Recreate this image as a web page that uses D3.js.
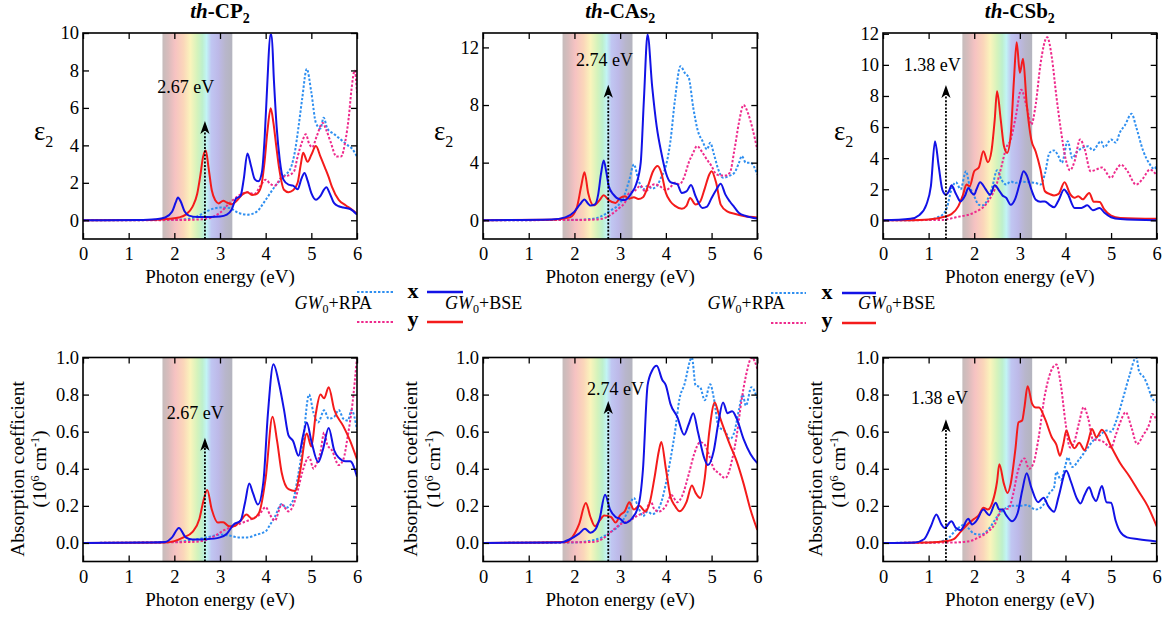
<!DOCTYPE html>
<html>
<head>
<meta charset="utf-8">
<script src="https://cdn.jsdelivr.net/npm/d3@7"></script>
<style>
  body { margin: 0; background: #fff; }
  svg { font-family: "Liberation Serif", "Times New Roman", serif; }
  .tick text { font-size: 18.5px; fill: #000; }
  .tick line { stroke: #000; stroke-width: 1.3; }
</style>
</head>
<body>
<svg id="chart" width="1167" height="618"></svg>
<script>
// ---- data (photon energy eV, value) ----
const materials = ["CP", "CAs", "CSb"];
const bandGaps = [2.67, 2.74, 1.38];
const visibleRange = [1.74, 3.27];
const xTicks = [0, 1, 2, 3, 4, 5, 6];

// th-CP2, epsilon_2
const cp2EpsXBse = [[0,0],[1.2,0.02],[1.6,0.06],[1.8,0.15],[1.95,0.45],[2.03,0.95],[2.08,1.22],[2.14,1.0],[2.22,0.5],[2.32,0.25],[2.5,0.18],[2.8,0.18],[3.0,0.2],[3.15,0.3],[3.25,0.55],[3.35,1.15],[3.45,1.3],[3.52,2.2],[3.6,3.57],[3.68,2.9],[3.76,2.2],[3.84,2.08],[3.92,2.6],[3.98,4.5],[4.04,7.5],[4.1,9.9],[4.13,9.9],[4.18,7.5],[4.24,5.0],[4.31,3.2],[4.39,2.17],[4.5,1.9],[4.6,1.85],[4.7,1.65],[4.78,2.2],[4.85,2.53],[4.92,2.1],[5.0,1.45],[5.1,1.1],[5.2,1.3],[5.28,1.65],[5.33,1.76],[5.4,1.45],[5.5,0.91],[5.6,0.75],[5.7,0.68],[5.85,0.6],[6.0,0.3]];
const cp2EpsYBse = [[0,0],[1.5,0.02],[1.9,0.08],[2.1,0.15],[2.25,0.3],[2.4,0.73],[2.5,1.4],[2.57,2.4],[2.63,3.4],[2.69,3.73],[2.75,2.8],[2.82,1.6],[2.9,1.05],[2.97,0.9],[3.07,1.04],[3.15,0.95],[3.25,0.85],[3.35,1.0],[3.5,1.4],[3.6,1.5],[3.7,1.35],[3.8,1.4],[3.9,1.8],[3.97,3.0],[4.04,4.8],[4.11,5.98],[4.17,5.2],[4.23,4.0],[4.3,2.7],[4.4,1.63],[4.5,1.5],[4.6,1.6],[4.7,2.0],[4.77,3.0],[4.82,3.6],[4.92,3.12],[5.0,3.5],[5.1,3.96],[5.2,3.4],[5.3,2.8],[5.38,2.3],[5.45,1.8],[5.6,1.09],[5.75,0.8],[5.9,0.55],[6.0,0.35]];
const cp2EpsXRpa = [[0,0],[1.5,0.01],[2.2,0.05],[2.5,0.2],[2.7,0.47],[3.0,0.68],[3.2,0.66],[3.4,0.4],[3.6,0.3],[3.8,0.45],[4.0,1.09],[4.2,1.8],[4.4,2.35],[4.55,2.8],[4.65,3.8],[4.72,5.0],[4.8,6.5],[4.9,8.08],[5.0,6.83],[5.1,5.2],[5.2,4.9],[5.27,5.48],[5.35,4.9],[5.5,4.6],[5.6,4.4],[5.7,4.2],[5.8,4.0],[5.9,3.8],[6.0,3.4]];
const cp2EpsYRpa = [[0,0],[2.0,0.01],[2.6,0.05],[3.0,0.4],[3.2,0.9],[3.4,1.3],[3.6,1.5],[3.75,1.4],[3.9,1.9],[4.0,2.17],[4.1,1.95],[4.2,1.85],[4.35,2.3],[4.5,2.4],[4.62,2.6],[4.7,3.4],[4.8,4.2],[4.88,4.59],[4.95,4.1],[5.02,3.9],[5.12,4.5],[5.25,5.2],[5.33,4.8],[5.42,4.2],[5.55,3.4],[5.65,3.4],[5.75,4.3],[5.82,5.5],[5.88,7.0],[5.95,8.0],[6.0,6.8]];

// th-CAs2, epsilon_2
const casEpsXBse = [[0,0],[1.5,0.05],[1.8,0.2],[2.0,0.6],[2.12,1.1],[2.22,1.44],[2.3,1.15],[2.35,1.02],[2.45,1.1],[2.52,1.8],[2.58,3.2],[2.64,4.15],[2.7,3.3],[2.75,2.37],[2.85,1.8],[3.0,1.44],[3.1,1.4],[3.25,1.9],[3.35,2.5],[3.45,4.0],[3.52,8.4],[3.6,12.9],[3.7,9.3],[3.8,6.5],[3.9,4.7],[4.0,3.3],[4.1,2.65],[4.25,2.5],[4.35,1.9],[4.45,2.0],[4.55,2.44],[4.65,1.67],[4.8,0.86],[4.9,0.95],[5.0,1.55],[5.1,2.1],[5.2,2.53],[5.3,1.8],[5.4,1.3],[5.5,0.9],[5.6,0.5],[5.75,0.3],[6.0,0.12]];
const casEpsYBse = [[0,0],[1.5,0.04],[1.9,0.2],[2.05,0.86],[2.15,2.4],[2.22,3.34],[2.3,1.9],[2.42,1.04],[2.55,1.4],[2.64,1.74],[2.75,1.4],[2.9,1.2],[3.0,1.55],[3.1,1.67],[3.2,1.5],[3.3,1.6],[3.4,1.48],[3.5,1.6],[3.6,2.3],[3.72,3.4],[3.82,3.76],[3.9,3.3],[4.0,1.9],[4.1,1.3],[4.2,1.0],[4.35,0.8],[4.45,1.0],[4.53,1.55],[4.65,1.1],[4.75,1.3],[4.85,2.2],[4.95,3.18],[5.0,3.41],[5.1,2.6],[5.2,1.09],[5.35,0.6],[5.5,0.45],[5.7,0.3],[6.0,0.2]];
const casEpsXRpa = [[0,0],[2.0,0.03],[2.4,0.1],[2.6,0.3],[2.8,0.7],[3.0,1.2],[3.1,1.8],[3.2,2.8],[3.3,3.88],[3.4,2.8],[3.5,2.14],[3.6,2.4],[3.7,2.2],[3.8,2.37],[3.9,3.0],[4.0,3.76],[4.1,5.5],[4.2,8.4],[4.32,10.7],[4.42,10.2],[4.5,9.9],[4.6,7.8],[4.7,6.2],[4.8,5.5],[4.9,4.92],[4.97,5.38],[5.05,4.6],[5.15,3.5],[5.25,2.95],[5.4,3.1],[5.5,3.3],[5.6,4.0],[5.66,4.46],[5.75,4.0],[5.85,4.0],[6.0,3.18]];
const casEpsYRpa = [[0,0],[2.3,0.03],[2.6,0.1],[2.8,0.4],[3.0,0.9],[3.1,1.2],[3.2,1.9],[3.3,2.0],[3.45,2.4],[3.55,2.0],[3.65,2.3],[3.75,2.5],[3.85,2.4],[4.0,2.1],[4.1,2.3],[4.2,2.6],[4.3,2.5],[4.4,3.0],[4.5,4.0],[4.6,4.7],[4.68,5.15],[4.8,4.7],[4.9,4.2],[5.0,3.76],[5.1,3.2],[5.2,3.1],[5.3,3.1],[5.4,3.3],[5.5,4.9],[5.6,6.8],[5.7,8.0],[5.8,7.4],[5.9,6.3],[6.0,4.9]];

// th-CSb2, epsilon_2
const csbEpsXBse = [[0,0],[0.6,0.1],[0.8,0.35],[0.95,1.0],[1.05,2.2],[1.14,5.09],[1.22,3.5],[1.3,1.98],[1.38,1.65],[1.45,1.9],[1.5,2.25],[1.6,1.7],[1.7,1.22],[1.8,1.6],[1.87,2.08],[1.95,1.75],[2.0,1.65],[2.05,2.0],[2.13,2.45],[2.25,2.0],[2.35,1.65],[2.45,2.25],[2.55,1.9],[2.62,1.6],[2.7,1.45],[2.8,1.0],[2.9,1.4],[3.0,2.4],[3.08,3.16],[3.15,2.9],[3.25,2.0],[3.35,1.33],[3.45,1.2],[3.55,1.22],[3.65,1.0],[3.75,0.84],[3.85,1.3],[3.97,1.98],[4.05,1.7],[4.2,0.8],[4.35,0.8],[4.48,0.97],[4.6,0.65],[4.75,0.8],[4.85,0.5],[5.0,0.2],[5.2,0.08],[6.0,0.0]];
const csbEpsYBse = [[0,0],[0.8,0.03],[1.0,0.06],[1.3,0.2],[1.5,0.4],[1.65,0.9],[1.75,1.6],[1.83,2.3],[1.9,2.2],[2.0,3.16],[2.1,3.4],[2.2,4.44],[2.3,3.74],[2.38,4.5],[2.45,6.5],[2.5,8.3],[2.58,6.5],[2.65,4.8],[2.72,4.34],[2.8,5.5],[2.87,9.0],[2.93,11.46],[3.0,9.49],[3.07,10.39],[3.15,7.5],[3.25,5.2],[3.35,4.4],[3.45,3.3],[3.55,1.87],[3.65,1.7],[3.75,1.6],[3.85,1.7],[3.98,2.45],[4.1,1.7],[4.2,1.45],[4.28,1.55],[4.38,1.35],[4.52,1.76],[4.62,1.2],[4.75,1.18],[4.85,0.7],[5.0,0.3],[5.2,0.15],[6.0,0.1]];
const csbEpsXRpa = [[0,0],[1.0,0.03],[1.2,0.2],[1.3,0.35],[1.4,0.8],[1.5,1.98],[1.6,2.45],[1.7,2.0],[1.82,3.16],[1.9,2.2],[2.0,1.55],[2.1,1.0],[2.2,0.97],[2.3,1.4],[2.4,2.2],[2.5,3.22],[2.6,2.6],[2.7,2.3],[2.8,2.5],[2.9,2.4],[3.0,2.5],[3.2,2.45],[3.35,2.4],[3.45,2.3],[3.55,3.0],[3.65,4.34],[3.75,4.5],[3.85,4.1],[3.92,3.7],[4.05,5.09],[4.15,4.0],[4.25,4.4],[4.5,4.76],[4.6,4.5],[4.78,5.09],[4.85,4.7],[5.0,5.2],[5.1,5.0],[5.2,5.7],[5.3,6.1],[5.45,6.85],[5.55,6.0],[5.7,4.5],[5.85,3.6],[5.95,3.3],[6.0,3.6]];
const csbEpsYRpa = [[0,0],[1.3,0.03],[1.6,0.2],[2.0,0.5],[2.3,1.2],[2.5,2.4],[2.6,3.5],[2.7,4.66],[2.8,5.2],[2.9,6.5],[3.03,8.4],[3.15,7.3],[3.25,6.16],[3.35,7.5],[3.45,10.0],[3.6,11.78],[3.7,10.5],[3.8,8.0],[3.9,5.8],[4.0,4.0],[4.1,3.22],[4.2,3.8],[4.32,5.2],[4.42,4.6],[4.55,3.16],[4.7,3.3],[4.8,3.4],[5.0,2.73],[5.1,3.2],[5.22,3.58],[5.35,3.2],[5.55,2.3],[5.7,2.7],[5.85,3.26],[6.0,2.9]];

// th-CP2, absorption (1e6 cm^-1)
const cp2AbsXBse = [[0,0],[1.5,0.002],[1.8,0.005],[1.95,0.03],[2.1,0.081],[2.25,0.03],[2.4,0.018],[2.7,0.02],[3.0,0.03],[3.15,0.05],[3.3,0.1],[3.45,0.12],[3.55,0.22],[3.64,0.32],[3.72,0.27],[3.83,0.207],[3.95,0.33],[4.05,0.7],[4.17,0.964],[4.3,0.85],[4.4,0.72],[4.5,0.58],[4.6,0.55],[4.72,0.47],[4.82,0.58],[4.9,0.65],[5.0,0.55],[5.15,0.436],[5.25,0.5],[5.38,0.62],[5.5,0.5],[5.6,0.46],[5.75,0.44],[5.85,0.44],[6.0,0.357]];
const cp2AbsYBse = [[0,0],[1.8,0.003],[2.0,0.01],[2.2,0.03],[2.4,0.06],[2.55,0.13],[2.63,0.22],[2.72,0.285],[2.82,0.18],[2.95,0.11],[3.07,0.112],[3.2,0.09],[3.3,0.09],[3.45,0.12],[3.58,0.153],[3.7,0.13],[3.85,0.16],[4.0,0.35],[4.15,0.68],[4.25,0.55],[4.35,0.38],[4.5,0.29],[4.65,0.28],[4.75,0.38],[4.9,0.59],[5.0,0.52],[5.1,0.7],[5.2,0.8],[5.28,0.78],[5.38,0.84],[5.5,0.72],[5.7,0.63],[5.85,0.55],[6.0,0.45]];
const cp2AbsXRpa = [[0,0],[2.0,0.005],[2.5,0.02],[2.8,0.035],[3.0,0.045],[3.2,0.04],[3.4,0.03],[3.6,0.03],[3.8,0.045],[4.0,0.063],[4.1,0.1],[4.2,0.14],[4.35,0.21],[4.45,0.19],[4.6,0.23],[4.7,0.35],[4.8,0.5],[4.95,0.8],[5.05,0.7],[5.15,0.65],[5.28,0.715],[5.38,0.67],[5.5,0.68],[5.6,0.717],[5.7,0.67],[5.8,0.66],[5.88,0.717],[6.0,0.61]];
const cp2AbsYRpa = [[0,0],[2.3,0.005],[2.6,0.01],[2.9,0.04],[3.1,0.07],[3.3,0.09],[3.5,0.11],[3.7,0.13],[3.85,0.15],[4.0,0.193],[4.1,0.15],[4.2,0.12],[4.35,0.207],[4.5,0.17],[4.6,0.2],[4.7,0.28],[4.8,0.38],[4.95,0.463],[5.05,0.4],[5.1,0.42],[5.2,0.49],[5.28,0.595],[5.35,0.53],[5.45,0.5],[5.6,0.42],[5.7,0.45],[5.8,0.58],[5.9,0.75],[6.0,1.0]];

// th-CAs2, absorption
const casAbsXBse = [[0,0],[1.7,0.003],[1.9,0.02],[2.1,0.05],[2.23,0.076],[2.35,0.055],[2.45,0.07],[2.55,0.13],[2.67,0.26],[2.78,0.18],[2.9,0.14],[3.0,0.13],[3.1,0.108],[3.25,0.13],[3.4,0.2],[3.5,0.4],[3.6,0.85],[3.7,0.93],[3.8,0.955],[3.92,0.88],[4.0,0.85],[4.1,0.75],[4.25,0.68],[4.4,0.584],[4.5,0.64],[4.6,0.7],[4.7,0.6],[4.85,0.45],[4.92,0.42],[5.05,0.5],[5.15,0.65],[5.25,0.757],[5.35,0.7],[5.45,0.71],[5.55,0.67],[5.7,0.56],[5.85,0.48],[6.0,0.43]];
const casAbsYBse = [[0,0],[1.8,0.005],[1.95,0.03],[2.1,0.1],[2.25,0.216],[2.35,0.14],[2.45,0.09],[2.55,0.12],[2.65,0.148],[2.8,0.14],[2.9,0.11],[3.0,0.15],[3.1,0.17],[3.2,0.22],[3.3,0.18],[3.42,0.2],[3.55,0.17],[3.65,0.22],[3.75,0.35],[3.85,0.5],[3.9,0.545],[4.0,0.4],[4.1,0.25],[4.2,0.2],[4.3,0.171],[4.45,0.22],[4.57,0.31],[4.65,0.27],[4.75,0.243],[4.85,0.35],[4.95,0.6],[5.07,0.757],[5.15,0.7],[5.25,0.63],[5.4,0.53],[5.55,0.44],[5.7,0.32],[5.85,0.18],[6.0,0.07]];
const casAbsXRpa = [[0,0],[2.0,0.003],[2.3,0.01],[2.6,0.03],[2.8,0.06],[3.0,0.1],[3.15,0.16],[3.3,0.243],[3.4,0.19],[3.5,0.144],[3.6,0.17],[3.7,0.155],[3.8,0.17],[3.9,0.22],[4.0,0.32],[4.1,0.45],[4.2,0.6],[4.3,0.78],[4.4,0.85],[4.57,1.0],[4.65,0.85],[4.75,0.84],[4.85,0.77],[4.97,0.856],[5.05,0.78],[5.15,0.63],[5.3,0.6],[5.4,0.56],[5.5,0.6],[5.6,0.72],[5.68,0.8],[5.75,0.74],[5.87,0.84],[6.0,0.78]];
const casAbsYRpa = [[0,0],[2.4,0.005],[2.6,0.02],[2.8,0.06],[3.0,0.1],[3.2,0.12],[3.4,0.15],[3.55,0.17],[3.67,0.225],[3.75,0.18],[3.85,0.17],[4.0,0.2],[4.12,0.258],[4.25,0.22],[4.35,0.25],[4.5,0.37],[4.62,0.48],[4.75,0.544],[4.85,0.53],[4.95,0.47],[5.05,0.4],[5.15,0.378],[5.3,0.35],[5.45,0.45],[5.55,0.58],[5.65,0.76],[5.75,0.9],[5.88,1.0],[6.0,0.94]];

// th-CSb2, absorption
const csbAbsXBse = [[0,0],[0.7,0.003],[0.9,0.02],[1.05,0.09],[1.17,0.154],[1.28,0.1],[1.35,0.081],[1.5,0.117],[1.6,0.08],[1.7,0.069],[1.87,0.13],[1.95,0.1],[2.05,0.12],[2.2,0.18],[2.33,0.15],[2.47,0.217],[2.55,0.18],[2.62,0.18],[2.7,0.15],[2.83,0.117],[2.95,0.16],[3.05,0.28],[3.15,0.376],[3.25,0.3],[3.4,0.22],[3.52,0.244],[3.62,0.2],[3.75,0.168],[3.85,0.25],[4.02,0.39],[4.12,0.33],[4.25,0.24],[4.33,0.213],[4.42,0.26],[4.52,0.3],[4.6,0.25],[4.67,0.226],[4.8,0.307],[4.9,0.22],[5.0,0.217],[5.1,0.12],[5.2,0.06],[5.35,0.03],[5.6,0.02],[6.0,0.008]];
const csbAbsYBse = [[0,0],[1.0,0.002],[1.4,0.01],[1.55,0.02],[1.7,0.06],[1.85,0.1],[2.0,0.13],[2.1,0.15],[2.2,0.19],[2.3,0.18],[2.4,0.22],[2.5,0.33],[2.55,0.425],[2.65,0.32],[2.73,0.27],[2.8,0.32],[2.9,0.5],[2.97,0.65],[3.05,0.66],[3.1,0.73],[3.17,0.845],[3.27,0.75],[3.35,0.73],[3.42,0.73],[3.55,0.67],[3.7,0.57],[3.8,0.53],[3.88,0.47],[3.95,0.53],[4.02,0.606],[4.1,0.55],[4.2,0.51],[4.3,0.54],[4.42,0.5],[4.5,0.55],[4.58,0.615],[4.68,0.57],[4.8,0.61],[5.0,0.52],[5.2,0.43],[5.4,0.36],[5.6,0.28],[5.8,0.2],[6.0,0.09]];
const csbAbsXRpa = [[0,0],[1.1,0.003],[1.3,0.01],[1.45,0.03],[1.6,0.07],[1.7,0.09],[1.78,0.1],[1.87,0.08],[2.0,0.05],[2.15,0.045],[2.3,0.07],[2.5,0.14],[2.65,0.18],[2.8,0.2],[3.0,0.2],[3.15,0.204],[3.35,0.18],[3.5,0.2],[3.65,0.27],[3.75,0.3],[3.8,0.383],[3.9,0.34],[4.0,0.42],[4.05,0.461],[4.15,0.41],[4.3,0.45],[4.45,0.5],[4.6,0.55],[4.75,0.58],[4.9,0.606],[5.0,0.6],[5.1,0.65],[5.25,0.77],[5.4,0.9],[5.55,1.0],[5.62,0.92],[5.7,0.9],[5.8,0.85],[5.9,0.78],[6.0,0.76]];
const csbAbsYRpa = [[0,0],[1.6,0.003],[1.9,0.01],[2.1,0.03],[2.3,0.06],[2.45,0.1],[2.6,0.18],[2.75,0.185],[2.85,0.26],[2.95,0.38],[3.1,0.456],[3.2,0.4],[3.3,0.43],[3.4,0.55],[3.55,0.8],[3.8,0.962],[3.9,0.85],[4.0,0.65],[4.1,0.515],[4.2,0.55],[4.3,0.65],[4.4,0.732],[4.5,0.67],[4.6,0.56],[4.8,0.55],[5.0,0.515],[5.1,0.58],[5.2,0.65],[5.32,0.705],[5.45,0.62],[5.57,0.533],[5.7,0.58],[5.85,0.65],[5.9,0.696],[6.0,0.66]];

// ---- styles ----
const lineStyle = {
  xRpa: { color: "#2f8ff0", dash: "2.4,1.8" },
  yRpa: { color: "#ee2a8c", dash: "2.4,1.8" },
  yBse: { color: "#f41b1b", dash: null },
  xBse: { color: "#1212e6", dash: null },
};

// ---- layout ----
const cols = [
  { l: 83, r: 357 },
  { l: 483, r: 757.3 },
  { l: 883, r: 1156.7 },
];
const topRow = { t: 33, b: 239 };
const botRow = { t: 357.5, b: 561.5 };

const panels = [
  { col: 0, row: topRow, kind: "eps", yDomain: [-1, 10], yTicks: [0, 2, 4, 6, 8, 10], tip: 5.3, lblX: 2.25, lblY: 6.8,
    series: [[cp2EpsXRpa, "xRpa"], [cp2EpsYRpa, "yRpa"], [cp2EpsYBse, "yBse"], [cp2EpsXBse, "xBse"]] },
  { col: 1, row: topRow, kind: "eps", yDomain: [-1.3, 13], yTicks: [0, 4, 8, 12], tip: 9.4, lblX: 2.66, lblY: 10.7,
    series: [[casEpsXRpa, "xRpa"], [casEpsYRpa, "yRpa"], [casEpsYBse, "yBse"], [casEpsXBse, "xBse"]] },
  { col: 2, row: topRow, kind: "eps", yDomain: [-1.2, 12.05], yTicks: [0, 2, 4, 6, 8, 10, 12], tip: 8.7, lblX: 1.08, lblY: 9.6,
    series: [[csbEpsXRpa, "xRpa"], [csbEpsYRpa, "yRpa"], [csbEpsYBse, "yBse"], [csbEpsXBse, "xBse"]] },
  { col: 0, row: botRow, kind: "abs", yDomain: [-0.1, 1.0], yTicks: [0, 0.2, 0.4, 0.6, 0.8, 1.0], tip: 0.567, lblX: 2.46, lblY: 0.667, ylx: [24, 46],
    series: [[cp2AbsXRpa, "xRpa"], [cp2AbsYRpa, "yRpa"], [cp2AbsYBse, "yBse"], [cp2AbsXBse, "xBse"]] },
  { col: 1, row: botRow, kind: "abs", yDomain: [-0.1, 1.0], yTicks: [0, 0.2, 0.4, 0.6, 0.8, 1.0], tip: 0.765, lblX: 2.9, lblY: 0.8, ylx: [417, 440],
    series: [[casAbsXRpa, "xRpa"], [casAbsYRpa, "yRpa"], [casAbsYBse, "yBse"], [casAbsXBse, "xBse"]] },
  { col: 2, row: botRow, kind: "abs", yDomain: [-0.1, 1.0], yTicks: [0, 0.2, 0.4, 0.6, 0.8, 1.0], tip: 0.667, lblX: 1.24, lblY: 0.75, ylx: [822, 845],
    series: [[csbAbsXRpa, "xRpa"], [csbAbsYRpa, "yRpa"], [csbAbsYBse, "yBse"], [csbAbsXBse, "xBse"]] },
];

const svg = d3.select("#chart");
const defs = svg.append("defs");

// visible-light band gradient (pastel, greyish at both ends)
const grad = defs.append("linearGradient").attr("id", "spectrum").attr("x1", 0).attr("x2", 1).attr("y1", 0).attr("y2", 0);
[
  [0, "#c6bcbc"], [0.08, "#d8bcbc"], [0.18, "#f6c2c2"], [0.3, "#fbd6ba"],
  [0.4, "#faf4bc"], [0.5, "#d4f3bc"], [0.57, "#bef0cc"], [0.63, "#c2f4f4"],
  [0.7, "#c0c6f2"], [0.8, "#bdb9e8"], [0.9, "#b8b6cc"], [1, "#b4b4be"],
].forEach(([o, c]) => grad.append("stop").attr("offset", o).attr("stop-color", c));

panels.forEach((p, i) => {
  const c = cols[p.col];
  const f = { l: c.l, r: c.r, t: p.row.t, b: p.row.b };
  const x = d3.scaleLinear().domain([0, 6]).range([f.l, f.r]);
  const y = d3.scaleLinear().domain(p.yDomain).range([f.b, f.t]);
  const g = svg.append("g");

  defs.append("clipPath").attr("id", "clip" + i)
    .append("rect").attr("x", f.l).attr("y", f.t).attr("width", f.r - f.l).attr("height", f.b - f.t);

  // visible band
  g.append("rect")
    .attr("x", x(visibleRange[0])).attr("y", f.t)
    .attr("width", x(visibleRange[1]) - x(visibleRange[0])).attr("height", f.b - f.t)
    .attr("fill", "url(#spectrum)");

  // curves
  const line = d3.line().x((d) => x(d[0])).y((d) => y(d[1])).curve(d3.curveMonotoneX);
  const curves = g.append("g").attr("clip-path", `url(#clip${i})`);
  p.series.forEach(([data, key]) => {
    const s = lineStyle[key];
    curves.append("path")
      .attr("d", line(data))
      .attr("fill", "none")
      .attr("stroke", s.color)
      .attr("stroke-width", 2)
      .attr("stroke-dasharray", s.dash)
      .attr("stroke-linejoin", "round");
  });

  // band-gap arrow
  const gap = bandGaps[p.col];
  const ax = x(gap), ty = y(p.tip);
  g.append("line")
    .attr("x1", ax).attr("x2", ax).attr("y1", f.b).attr("y2", ty + 8)
    .attr("stroke", "#000").attr("stroke-width", 1.8).attr("stroke-dasharray", "2,1.6");
  g.append("path")
    .attr("d", `M${ax},${ty} L${ax + 4.6},${ty + 13} L${ax},${ty + 9.5} L${ax - 4.6},${ty + 13} Z`)
    .attr("fill", "#000");
  g.append("text")
    .attr("x", x(p.lblX)).attr("y", y(p.lblY))
    .attr("text-anchor", "middle").attr("font-size", 18)
    .text(gap.toFixed(2) + " eV");

  // axes (inward ticks on all sides)
  const fmt = p.kind === "abs" ? d3.format(".1f") : d3.format("d");
  const axB = g.append("g").attr("transform", `translate(0,${f.b})`)
    .call(d3.axisBottom(x).tickValues(xTicks).tickSize(-6).tickPadding(8).tickFormat(d3.format("d")));
  const axT = g.append("g").attr("transform", `translate(0,${f.t})`)
    .call(d3.axisTop(x).tickValues(xTicks).tickSize(-6).tickFormat(""));
  const axL = g.append("g").attr("transform", `translate(${f.l},0)`)
    .call(d3.axisLeft(y).tickValues(p.yTicks).tickSize(-6).tickPadding(4).tickFormat(fmt));
  const axR = g.append("g").attr("transform", `translate(${f.r},0)`)
    .call(d3.axisRight(y).tickValues(p.yTicks).tickSize(-6).tickFormat(""));
  [axB, axT, axL, axR].forEach((a) => { a.select(".domain").remove(); a.attr("font-family", null).attr("font-size", null); });

  g.append("rect")
    .attr("x", f.l).attr("y", f.t).attr("width", f.r - f.l).attr("height", f.b - f.t)
    .attr("fill", "none").attr("stroke", "#000").attr("stroke-width", 1.6);

  // x label
  g.append("text")
    .attr("x", (f.l + f.r) / 2).attr("y", f.b + 44)
    .attr("text-anchor", "middle").attr("font-size", 19)
    .text("Photon energy (eV)");

  // y labels
  if (p.kind === "eps") {
    const t = g.append("text").attr("x", f.l - 49).attr("y", 140).attr("font-size", 27);
    t.append("tspan").text("ε");
    t.append("tspan").attr("font-size", 16).attr("dy", 7).text("2");

    const title = g.append("text")
      .attr("x", (f.l + f.r) / 2).attr("y", 18)
      .attr("text-anchor", "middle").attr("font-size", 21).attr("font-weight", "bold");
    title.append("tspan").attr("font-style", "italic").text("th");
    title.append("tspan").text("-" + materials[p.col]);
    title.append("tspan").attr("font-size", 14).attr("dy", 5).text("2");
  } else {
    const cy = 469;
    g.append("text")
      .attr("transform", `translate(${p.ylx[0]},${cy}) rotate(-90)`)
      .attr("text-anchor", "middle").attr("font-size", 19.5)
      .text("Absorption coefficient");
    const t2 = g.append("text")
      .attr("transform", `translate(${p.ylx[1]},${cy}) rotate(-90)`)
      .attr("text-anchor", "middle").attr("font-size", 19.5);
    t2.append("tspan").text("(10");
    t2.append("tspan").attr("font-size", 12).attr("dy", -7).text("6");
    t2.append("tspan").attr("dy", 7).text(" cm");
    t2.append("tspan").attr("font-size", 12).attr("dy", -7).text("-1");
    t2.append("tspan").attr("dy", 7).text(")");
  }
});

// ---- legends ----
function legend(cfg) {
  const g = svg.append("g");
  const rows = [
    { y: cfg.y1, lab: "x", dot: lineStyle.xRpa, solid: lineStyle.xBse },
    { y: cfg.y2, lab: "y", dot: lineStyle.yRpa, solid: lineStyle.yBse },
  ];
  rows.forEach((r) => {
    g.append("line").attr("x1", cfg.d1).attr("x2", cfg.d2).attr("y1", r.y).attr("y2", r.y)
      .attr("stroke", r.dot.color).attr("stroke-width", 2.2).attr("stroke-dasharray", r.dot.dash);
    g.append("line").attr("x1", cfg.s1).attr("x2", cfg.s2).attr("y1", r.y).attr("y2", r.y)
      .attr("stroke", r.solid.color).attr("stroke-width", 2.6);
    g.append("text").attr("x", cfg.lx).attr("y", r.y + (r.lab === "x" ? 6 : 4))
      .attr("text-anchor", "middle").attr("font-size", 22).attr("font-weight", "bold").text(r.lab);
  });
  const gw = (xPos, anchor, suffix) => {
    const t = g.append("text").attr("x", xPos).attr("y", cfg.ty).attr("text-anchor", anchor).attr("font-size", 18);
    t.append("tspan").attr("font-style", "italic").text("GW");
    t.append("tspan").attr("font-size", 12).attr("dy", 4).text("0");
    t.append("tspan").attr("dy", -4).text("+" + suffix);
  };
  gw(cfg.rpaEnd, "end", "RPA");
  gw(cfg.bseStart, "start", "BSE");
}
legend({ y1: 292, y2: 322, d1: 357, d2: 393, s1: 427, s2: 463, lx: 413, ty: 309, rpaEnd: 372, bseStart: 445 });
legend({ y1: 293, y2: 323, d1: 771, d2: 806, s1: 842, s2: 876, lx: 827, ty: 309, rpaEnd: 785, bseStart: 858 });
</script>
</body>
</html>
